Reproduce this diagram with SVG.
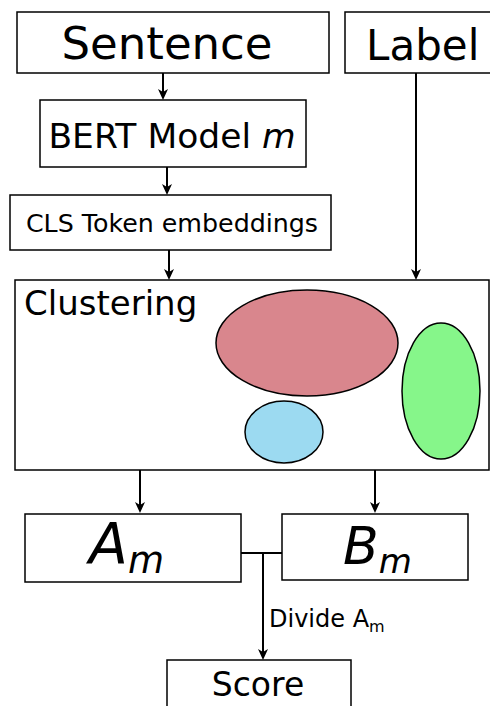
<svg xmlns="http://www.w3.org/2000/svg" width="490" height="706" viewBox="0 0 490 706">
<style>
.box{fill:#fff;stroke:#000;stroke-width:1.5}
.t{font-family:"DejaVu Sans","Liberation Sans",sans-serif;fill:#000}
.c{fill:none;stroke:#000;stroke-width:2}
.e{stroke:#000;stroke-width:1.5}
</style>
<defs>
<marker id="ah" viewBox="-12 -6 13 12" refX="-5" refY="0" markerWidth="13" markerHeight="12" markerUnits="userSpaceOnUse" orient="auto">
<path d="M0,0 L-11,-5 L-8,0 L-11,5 Z" fill="#000"/>
</marker>
</defs>
<rect width="490" height="706" fill="#fff"/>
<g id="connectors">
<line class="c" x1="163" y1="73" x2="163" y2="95" marker-end="url(#ah)"/>
<line class="c" x1="167" y1="167" x2="167" y2="190" marker-end="url(#ah)"/>
<line class="c" x1="169" y1="250" x2="169" y2="275" marker-end="url(#ah)"/>
<line class="c" x1="416" y1="73" x2="416" y2="275" marker-end="url(#ah)"/>
<line class="c" x1="140" y1="470" x2="140" y2="508" marker-end="url(#ah)"/>
<line class="c" x1="375" y1="470" x2="375" y2="508" marker-end="url(#ah)"/>
<polyline class="c" points="241,553 282,553"/>
<line class="c" x1="263" y1="553" x2="263" y2="655" marker-end="url(#ah)"/>
<text class="t" x="269" y="627" font-size="24">Divide A<tspan font-size="16" dy="5">m</tspan></text>
</g>
<g id="sentence">
<rect class="box" x="17" y="12" width="312" height="61"/>
<text class="t" x="167" y="59" font-size="45" text-anchor="middle">Sentence</text>
</g>
<g id="label">
<rect class="box" x="345" y="12" width="150" height="61"/>
<text class="t" x="366" y="60" font-size="42">Label</text>
</g>
<g id="bert">
<rect class="box" x="40" y="100" width="266" height="67"/>
<text class="t" x="172" y="148" font-size="34.5" text-anchor="middle">BERT Model <tspan font-style="italic">m</tspan></text>
</g>
<g id="cls">
<rect class="box" x="10" y="195" width="321" height="55"/>
<text class="t" x="172" y="232" font-size="25.3" text-anchor="middle">CLS Token embeddings</text>
</g>
<g id="clustering">
<rect class="box" x="15" y="280" width="474" height="190"/>
<text class="t" x="24" y="315" font-size="34">Clustering</text>
<ellipse class="e" cx="307" cy="343" rx="91" ry="53" fill="#d9868d"/>
<ellipse class="e" cx="441" cy="391" rx="39" ry="68" fill="#86f68a"/>
<ellipse class="e" cx="284" cy="432" rx="39" ry="31" fill="#9cdaf1"/>
</g>
<g id="am">
<rect class="box" x="25" y="514" width="216" height="68"/>
<text class="t" x="89" y="564" font-size="57" font-style="italic">A<tspan font-size="37" dy="9">m</tspan></text>
</g>
<g id="bm">
<rect class="box" x="282" y="514" width="186" height="66"/>
<text class="t" x="343" y="564" font-size="52" font-style="italic">B<tspan font-size="34" dy="9">m</tspan></text>
</g>
<g id="score">
<rect class="box" x="167" y="660" width="184" height="60"/>
<text class="t" x="258" y="696" font-size="33" text-anchor="middle">Score</text>
</g>
</svg>
